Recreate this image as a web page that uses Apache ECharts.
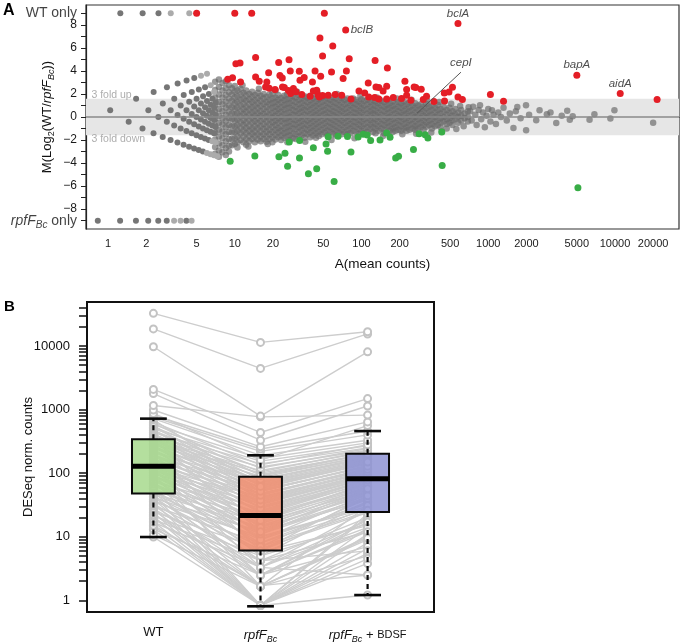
<!DOCTYPE html>
<html><head><meta charset="utf-8">
<script src="https://cdn.jsdelivr.net/npm/echarts@6/dist/echarts.min.js"></script>
<style>html,body{margin:0;padding:0;background:#fff}#c{width:683px;height:644px}</style>
</head><body><div id="c"></div><script>
// ---------- Panel A : MA plot ----------
const xMinA = 0.67, xMaxA = 32000;
const xTickValues = [1,2,5,10,20,50,100,200,500,1000,2000,5000,10000,20000];
const mTickValues = [-9,-8,-7,-6,-5,-4,-3,-2,-1,0,1,2,3,4,5,6,7,8,9];
const mLabelValues = [-8,-6,-4,-2,0,2,4,6,8];
const wtOnlyM = 9, rpfOnlyM = -9;
const onlyLabels = ['WT only','rpfF_Bc only'];
const foldUp = 1.585, foldDown = -1.585;

// low-count lattice (A, M)
const latticeDark = [
[1.04,0.585],[1.455,-0.415],[1.87,-1.0],[2.285,-1.415],[2.7,-1.737],[3.115,-2.0],[3.53,-2.222],[3.945,-2.415],[4.36,-2.585],[4.775,-2.737],[5.19,-2.874],[5.605,-3.0],
[1.665,1.585],[2.08,0.585],[2.495,0],[2.91,-0.415],[3.325,-0.737],[3.74,-1.0],[4.155,-1.222],[4.57,-1.415],[4.985,-1.585],[5.4,-1.737],[5.815,-1.874],[6.23,-2.0],
[2.29,2.17],[2.705,1.17],[3.12,0.585],[3.535,0.17],[3.95,-0.152],[4.365,-0.415],[4.78,-0.637],[5.195,-0.83],[5.61,-1.0],[6.025,-1.152],[6.44,-1.289],[6.855,-1.415],
[2.915,2.585],[3.33,1.585],[3.745,1.0],[4.16,0.585],[4.575,0.263],[4.99,0],[5.405,-0.222],[5.82,-0.415],[6.235,-0.585],[6.65,-0.737],[7.065,-0.874],
[3.54,2.907],[3.955,1.907],[4.37,1.322],[4.785,0.907],[5.2,0.585],[5.615,0.322],[6.03,0.1],[6.445,-0.093],[6.86,-0.263],
[4.165,3.17],[4.58,2.17],[4.995,1.585],[5.41,1.17],[5.825,0.848],[6.24,0.585],[6.655,0.363],[7.07,0.17],
[4.79,3.392],[5.205,2.392],[5.62,1.807],[6.035,1.392],[6.45,1.07],[6.865,0.807],
[5.83,2.585],[6.245,2.0],[6.66,1.585],[7.075,1.263]
];
const latticeLight = [
[6.02,-3.115],[6.435,-3.222],[6.85,-3.322],[7.265,-3.415],[6.645,-2.115],[7.06,-2.222],
[5.415,3.585],[6.04,3.755],[6.455,2.755],[6.87,2.17]
];
const wtOnlyDarkA = [1.25,1.875,2.5];
const wtOnlyLightA = [3.125,4.375];
const rpfOnlyDarkA = [0.83,1.245,1.66,2.075,2.49,2.905,4.15];
const rpfOnlyLightA = [3.32,3.735,4.565];

// dense cloud: each row = [A, M values...]
const cloudColumns = [
[7.0,3.05,2.35,1.7,1.05,0.45,-0.15,-0.75,-1.35,-1.95,-2.6,-3.2],
[7.5,3.25,2.6,1.95,1.3,0.7,0.1,-0.5,-1.1,-1.7,-2.3,-2.9,-3.45],
[8.0,2.95,2.3,1.7,1.1,0.5,-0.1,-0.65,-1.25,-1.85,-2.45,-3.05],
[8.5,3.1,2.5,1.9,1.35,0.8,0.2,-0.35,-0.9,-1.5,-2.1,-2.7,-3.3],
[9.0,2.75,2.15,1.6,1.0,0.45,-0.1,-0.7,-1.3,-1.9,-2.5,-3.0],
[9.5,2.5,1.95,1.4,0.85,0.3,-0.2,-0.8,-1.35,-1.9,-2.45],
[10.0,2.7,2.2,1.7,1.2,0.7,0.2,-0.3,-0.8,-1.3,-1.85,-2.35],
[10.5,2.3,1.8,1.3,0.8,0.3,-0.2,-0.7,-1.2,-1.7,-2.2,-2.65],
[11.1,2.45,1.95,1.5,1.0,0.5,0.05,-0.45,-0.95,-1.45,-2.0],
[11.7,2.1,1.6,1.15,0.7,0.25,-0.25,-0.7,-1.2,-1.7,-2.2],
[12.3,2.3,1.85,1.4,0.9,0.45,0.0,-0.5,-0.95,-1.4,-1.9,-2.4],
[13.0,2.0,1.55,1.1,0.65,0.2,-0.25,-0.75,-1.2,-1.65,-2.1],
[13.7,2.2,1.75,1.3,0.85,0.4,-0.05,-0.5,-1.0,-1.45,-1.9],
[14.4,1.9,1.45,1.0,0.55,0.1,-0.35,-0.8,-1.25,-1.7,-2.2],
[15.2,2.1,1.65,1.2,0.75,0.3,-0.1,-0.55,-1.0,-1.5,-1.95],
[16.0,1.85,1.4,0.95,0.5,0.1,-0.35,-0.8,-1.25,-1.7,-2.1],
[16.9,2.0,1.6,1.15,0.7,0.25,-0.15,-0.6,-1.05,-1.5,-1.9],
[17.8,1.75,1.3,0.9,0.45,0.05,-0.4,-0.85,-1.25,-1.7,-2.15],
[18.8,1.95,1.5,1.1,0.65,0.2,-0.2,-0.65,-1.1,-1.5,-1.9],
[19.8,2.05,1.6,1.2,0.8,0.35,-0.05,-0.45,-0.85,-1.3,-1.75,-2.2],
[20.9,1.7,1.3,0.9,0.5,0.1,-0.3,-0.7,-1.1,-1.55,-1.95],
[22.0,1.9,1.5,1.1,0.7,0.3,-0.1,-0.5,-0.95,-1.35,-1.75],
[23.2,1.65,1.25,0.85,0.45,0.05,-0.35,-0.8,-1.2,-1.6,-2.0],
[24.5,1.85,1.45,1.05,0.65,0.25,-0.15,-0.55,-1.0,-1.4,-1.8],
[25.8,1.95,1.55,1.15,0.75,0.3,-0.1,-0.5,-0.9,-1.3,-1.7],
[27.2,1.6,1.2,0.8,0.4,0.0,-0.4,-0.8,-1.2,-1.6,-2.0],
[28.7,1.8,1.4,1.0,0.6,0.2,-0.2,-0.6,-1.0,-1.45,-1.85],
[30.3,1.7,1.3,0.9,0.5,0.15,-0.25,-0.65,-1.05,-1.5,-1.9],
[32.0,1.9,1.5,1.1,0.7,0.3,-0.1,-0.5,-0.9,-1.3,-1.7],
[33.7,1.6,1.2,0.8,0.45,0.05,-0.35,-0.75,-1.15,-1.6],
[35.5,1.8,1.4,1.0,0.6,0.2,-0.2,-0.6,-1.0,-1.4,-1.8],
[37.4,1.7,1.3,0.9,0.5,0.1,-0.3,-0.7,-1.1,-1.5],
[39.4,1.85,1.45,1.05,0.65,0.25,-0.15,-0.55,-0.95,-1.35,-1.75],
[41.5,1.6,1.2,0.8,0.4,0.0,-0.4,-0.8,-1.2,-1.6],
[43.7,1.75,1.35,0.95,0.55,0.2,-0.2,-0.6,-1.0,-1.4,-1.8],
[46.0,1.55,1.15,0.75,0.35,-0.05,-0.45,-0.85,-1.25,-1.65],
[48.5,1.7,1.3,0.9,0.5,0.1,-0.3,-0.7,-1.1,-1.5],
[51.1,1.8,1.4,1.0,0.6,0.25,-0.15,-0.55,-0.95,-1.35],
[53.8,1.6,1.2,0.8,0.4,0.0,-0.4,-0.8,-1.2,-1.6],
[56.7,1.5,1.1,0.7,0.3,-0.1,-0.5,-0.9,-1.3],
[59.7,1.7,1.3,0.9,0.5,0.15,-0.25,-0.65,-1.05,-1.45],
[62.9,1.6,1.2,0.8,0.4,0.0,-0.4,-0.8,-1.2,-1.6],
[66.3,1.45,1.05,0.65,0.25,-0.15,-0.55,-0.95,-1.35],
[69.8,1.65,1.25,0.85,0.5,0.1,-0.3,-0.7,-1.1,-1.5],
[73.5,1.5,1.1,0.7,0.3,-0.1,-0.5,-0.9,-1.3],
[77.4,1.6,1.2,0.8,0.4,0.05,-0.35,-0.75,-1.15,-1.5],
[81.5,1.4,1.0,0.6,0.2,-0.2,-0.6,-1.0,-1.4],
[85.8,1.6,1.2,0.8,0.4,0.0,-0.4,-0.8,-1.2],
[90.3,1.5,1.1,0.7,0.35,-0.05,-0.45,-0.85,-1.3],
[95.1,1.35,0.95,0.55,0.15,-0.25,-0.65,-1.05,-1.45],
[100,1.55,1.15,0.75,0.4,0.0,-0.4,-0.8,-1.2],
[105,1.4,1.0,0.6,0.2,-0.2,-0.6,-1.0,-1.4],
[111,1.5,1.1,0.7,0.3,-0.1,-0.5,-0.9,-1.3],
[117,1.3,0.9,0.5,0.15,-0.25,-0.65,-1.05],
[123,1.45,1.05,0.65,0.3,-0.1,-0.5,-0.9,-1.3],
[129,1.35,0.95,0.55,0.2,-0.2,-0.6,-1.0,-1.4],
[136,1.2,0.8,0.4,0.0,-0.4,-0.8,-1.2],
[143,1.4,1.0,0.6,0.2,-0.2,-0.6,-1.0],
[151,1.3,0.9,0.5,0.1,-0.3,-0.7,-1.1,-1.4],
[159,1.45,1.05,0.7,0.3,-0.1,-0.5,-0.9],
[167,1.2,0.8,0.4,0.0,-0.4,-0.8,-1.2],
[176,1.35,0.95,0.6,0.2,-0.2,-0.6,-1.0,-1.3],
[185,1.1,0.7,0.3,-0.1,-0.5,-0.9,-1.2],
[195,1.3,0.9,0.5,0.1,-0.3,-0.7,-1.1],
[205,1.2,0.8,0.4,0.0,-0.4,-0.8,-1.2],
[216,1.35,0.95,0.55,0.2,-0.2,-0.6,-1.0],
[227,1.1,0.7,0.3,-0.1,-0.5,-0.9,-1.2],
[239,1.25,0.85,0.5,0.1,-0.3,-0.7,-1.1],
[252,1.0,0.6,0.2,-0.2,-0.6,-1.0],
[265,1.2,0.8,0.4,0.0,-0.4,-0.8,-1.1],
[279,1.0,0.6,0.2,-0.2,-0.6,-1.0],
[294,1.1,0.7,0.3,-0.1,-0.5,-0.9],
[309,0.9,0.5,0.1,-0.3,-0.7,-1.1],
[325,1.15,0.75,0.35,-0.05,-0.45,-0.85],
[342,0.9,0.5,0.1,-0.3,-0.7],
[360,1.0,0.6,0.2,-0.2,-0.6,-1.0],
[380,0.8,0.4,0.0,-0.4,-0.8],
[400,1.05,0.6,0.2,-0.25,-0.7],
[421,0.7,0.3,-0.1,-0.5,-0.9],
[445,0.9,0.45,0.0,-0.4],
[470,0.6,0.2,-0.2,-0.6,-1.0],
[495,0.8,0.35,-0.1,-0.5],
[522,0.5,0.1,-0.3,-0.7],
[550,0.7,0.2,-0.2],
[580,0.4,0.0,-0.5],
[612,0.6,0.1,-0.3],
[650,0.3,-0.1],
[690,0.5,0.0,-0.4]
];
const cloudLoose = [[11.5,2.75],[12.8,-2.55],[15.5,2.45],[18.2,-2.35],[21,2.3],[26,-2.2],[31,2.2],[36,-2.15],[45,2.1],[58,-2.0],[64,2.0],[88,-1.85],[98,1.85],[132,1.7],[148,-1.65],[190,1.6],[210,-1.5],[248,1.5],[270,-1.45],[330,1.4],[355,-1.35],[410,1.3],[430,-1.25],[510,1.15],[560,-1.05],[600,0.95],[640,-0.8],[700,0.85]];
const sparseGrey = [[720,0.5],[740,-0.3],[760,0.9],[790,0.2],[810,-0.7],[840,0.6],[861,1.02],[880,-0.2],[910,0.4],[940,-0.9],[970,0.1],[1000,0.7],[1040,-0.4],[1070,0.58],[1100,0.2],[1150,-0.6],[1200,0.4],[1260,0.0],[1320,0.8],[1400,-0.3],[1480,0.3],[1580,-0.96],[1650,0.5],[1695,0.87],[1800,-0.1],[1986,1.02],[1990,-1.16],[2100,0.2],[2390,-0.29],[2540,0.58],[2900,0.23],[3100,0.4],[3440,-0.52],[3800,0.1],[4200,0.55],[4400,-0.23],[4640,0.06],[6300,-0.23],[6880,0.23],[9200,-0.14],[9900,0.58],[20000,-0.5]];

const redWtOnlyA = [5.0,10,13.6,50.9];
const redPoints = [[8.8,3.28],[9.6,3.4],[10.2,4.62],[11.0,4.68],[11.1,3.04],[14.6,5.16],[14.6,3.48],[15.6,3.1],[17.5,2.61],[17.9,3.04],[18.5,3.83],[18.7,2.5],[20.8,2.38],[22.2,4.73],[22.7,3.6],[23.7,3.39],[23.8,2.6],[24.6,2.55],[26.5,2.29],[26.8,4.97],[27.4,4.0],[27.6,2.03],[29.0,2.47],[30.4,2.2],[32.3,3.97],[32.7,3.19],[33.8,1.95],[35.3,3.42],[39.3,1.8],[41.0,3.04],[41.7,2.26],[43,4.0],[44.3,2.32],[45.6,1.89],[46.5,1.74],[47,6.85],[47.6,3.54],[49.3,5.3],[49.3,1.86],[54.6,1.89],[58,3.9],[59.3,6.17],[62,1.95],[69.8,1.89],[71.6,3.34],[75,7.54],[76,4.0],[80,5.05],[82.6,1.57],[95.5,2.26],[106,2.09],[113,2.96],[114,1.74],[127,1.69],[128,4.9],[130,2.61],[137,2.56],[137,1.57],[148,2.26],[158,2.67],[158,1.57],[160,4.26],[178,1.69],[207,1.6],[220,3.1],[227,2.38],[227,1.89],[245,1.45],[260,2.61],[268,2.56],[296,2.4],[307,1.51],[326,1.8],[373,1.34],[450,2.09],[452,1.39],[490,2.17],[522,2.58],[577,8.12],[577,1.74],[625,1.52],[1040,1.95],[1320,1.37],[5000,3.63],[11000,2.03],[21500,1.51]];
const greenPoints = [[9.2,-3.83],[14.4,-3.39],[22.3,-3.45],[24.9,-3.15],[26.1,-4.28],[26.9,-2.17],[32.4,-3.55],[32.5,-2.03],[38.1,-4.92],[41.7,-2.66],[44.3,-4.5],[52.5,-2.35],[54,-2.97],[54.6,-1.72],[60.8,-5.59],[65.3,-1.68],[77.5,-1.7],[82.6,-3.04],[94,-1.74],[103,-1.5],[111,-1.56],[118,-2.03],[140,-2.0],[158,-1.39],[168,-1.75],[186,-3.55],[196,-3.4],[257,-2.81],[285,-1.45],[318,-1.53],[334,-1.82],[430,-1.3],[433,-4.2],[5100,-6.14]];

const geneLabelNames = ['bclB','bclA','bapA','aidA'];
const geneLabelA = [75,577,5000,11000];
const geneLabelM = [7.54,8.12,3.63,2.03];
const cepIName = 'cepI';
const cepIGene = [274,0.32];
const cepILabelEnd = [609,3.89];
const foldTexts = ['3 fold up','3 fold down'];
const foldTextA = [0.7,0.7];
const foldTextM = [1.89,-1.94];

// ---------- Panel B : box plots ----------
const groupX = [1,2,3];
const groupNames = ['WT','rpfF_Bc','rpfF_Bc + BDSF'];
const boxLow = [9.9,0.805,1.21];
const boxQ1 = [47.8,6.05,24.5];
const boxMedian = [128,21.5,82];
const boxQ3 = [341,88,203];
const boxHigh = [721,191,460];
const countTickValues = [1,2,3,4,5,6,7,8,9,10,20,30,40,50,60,70,80,90,100,200,300,400,500,600,700,800,900,1000,2000,3000,4000,5000,6000,7000,8000,9000,10000,20000,30000,40000];
const countLabelValues = [1,10,100,1000,10000];
const geneWT = [
9.9,10.8,12.9,13.2,14.8,15.1,16.9,17.3,18.8,19.2,
20.9,21.4,22.1,24.0,24.6,26.3,27.4,28.1,30.5,31.2,
32.6,35.1,35.8,37.9,38.6,40.9,42.5,43.1,45.6,46.8,
48.3,49.6,52.7,53.5,56.8,57.4,61.0,62.3,66.9,68.4,
72.8,74.1,78.9,80.2,85.1,86.3,91.2,92.4,97.0,98.5,
103,104,109,110,115,116,121,122,127,129,
132,135,142,145,152,156,164,168,176,181,
190,195,205,210,222,227,240,245,258,263,
276,281,294,299,312,316,327,330,340,343,
352,358,375,382,400,409,430,436,459,466,
490,498,525,535,565,580,615,635,690,721,
765,815,870,985,1160,1790,2080,9750,18600,32700];
const geneRpf = [
0.83,1.66,0.83,2.5,0.83,1.7,3.3,0.83,4.2,1.66,
0.83,5.0,2.5,0.83,6.5,1.66,3.3,0.83,8,2.5,
4.2,0.83,10,5.8,1.66,12,3.3,7,0.83,9,
14,2.5,6,17,4.2,11,0.83,20,8,13,
2.5,24,10,16,5,28,12,19,1.66,33,
15,22,7,38,18,26,3.3,42,21,30,
9,48,25,35,11,55,29,40,14,62,
32,46,6,70,36,52,18,80,42,58,
23,90,47,66,28,100,52,75,12,110,
58,85,33,125,64,95,38,140,72,105,
45,155,80,120,52,170,92,135,62,191,
220,240,160,260,770,330,437,790,4450,11400];
const geneBDSF = [
5.5,9,3.8,12,6.5,2.5,14,8,20,5,
11,16,7,1.21,24,10,18,4.5,27,13,
6,21,30,15,9.5,38,2.5,25,14,33,
45,19,29,52,12,40,23,60,35,48,
17,70,28,55,36,75,42,66,31,88,
50,72,40,95,58,80,26,100,64,85,
47,110,76,92,53,125,82,104,62,140,
90,118,44,155,98,130,70,170,108,145,
78,185,120,160,86,200,132,175,57,215,
140,190,95,230,150,205,105,250,165,225,
115,270,180,245,128,300,200,280,150,330,
400,460,560,640,820,1140,1490,8100,15500,16800];

// ---------- styles ----------
const FONT = 'Liberation Sans, Arial, sans-serif';
const boxColors = ['#a7d98d','#f18e70','#8e93d4'];
const redColor = '#e41e26', greenColor = '#38ad46';

function richName(name){
  if (name.indexOf('rpfF_Bc') < 0) return '{n|' + name + '}';
  let s = name.replace('rpfF_Bc','{i|rpfF}{s|Bc}');
  s = s.replace(' + BDSF','{n| + }{sm|BDSF}');
  s = s.replace(' only','{n| only}');
  return s;
}

const cloudPoints = cloudColumns.flatMap(c => c.slice(1).map(m => [c[0], m]));

function renderBox(params, api){
  const x = api.value(0);
  const lo = api.value(1), q1 = api.value(2), med = api.value(3), q3 = api.value(4), hi = api.value(5);
  const pQ1 = api.coord([x, q1]), pQ3 = api.coord([x, q3]), pMed = api.coord([x, med]);
  const pLo = api.coord([x, lo]), pHi = api.coord([x, hi]);
  const xl = api.coord([x - 0.2, med])[0], xr = api.coord([x + 0.2, med])[0];
  const cl = api.coord([x - 0.125, med])[0], cr = api.coord([x + 0.125, med])[0];
  const cx = pMed[0];
  const black = '#0a0a0a';
  return {type:'group', children:[
    {type:'line', shape:{x1:cx,y1:pQ3[1],x2:cx,y2:pHi[1]}, style:{stroke:black,lineWidth:2.2,lineDash:[5,4]}},
    {type:'line', shape:{x1:cx,y1:pQ1[1],x2:cx,y2:pLo[1]}, style:{stroke:black,lineWidth:2.2,lineDash:[5,4]}},
    {type:'line', shape:{x1:cl,y1:pHi[1],x2:cr,y2:pHi[1]}, style:{stroke:black,lineWidth:2.6}},
    {type:'line', shape:{x1:cl,y1:pLo[1],x2:cr,y2:pLo[1]}, style:{stroke:black,lineWidth:2.6}},
    {type:'rect', shape:{x:xl,y:pQ3[1],width:xr-xl,height:pQ1[1]-pQ3[1]}, style:{fill:boxColors[params.dataIndex],opacity:0.85}},
    {type:'rect', shape:{x:xl,y:pQ3[1],width:xr-xl,height:pQ1[1]-pQ3[1]}, style:{fill:'none',stroke:black,lineWidth:2}},
    {type:'line', shape:{x1:xl,y1:pMed[1],x2:xr,y2:pMed[1]}, style:{stroke:'#000',lineWidth:5}}
  ]};
}

const geneSeries = geneWT.map((w, i) => ({
  type:'line', xAxisIndex:1, yAxisIndex:1, silent:true, z:2,
  data:[[groupX[0], w],[groupX[1], geneRpf[i]],[groupX[2], geneBDSF[i]]],
  symbol:'emptyCircle', symbolSize:7,
  lineStyle:{color:'#cdcdcd', width:1.4},
  itemStyle:{color:'#c3c3c3', borderWidth:1.4, opacity:1}
}));

const richOnly = {n:{fontSize:14,color:'#111',fontFamily:FONT},
  i:{fontSize:14,fontStyle:'italic',color:'#111',fontFamily:FONT,lineHeight:19},
  s:{fontSize:10,fontStyle:'italic',color:'#111',fontFamily:FONT,verticalAlign:'bottom'}};

const option = {
  animation:false,
  textStyle:{fontFamily:FONT},
  title:[
    {text:'A', left:3, top:3, padding:0, textStyle:{fontSize:16,fontWeight:'bold',color:'#000',fontFamily:FONT}},
    {text:'B', left:4, top:299, padding:0, textStyle:{fontSize:15,fontWeight:'bold',color:'#000',fontFamily:FONT}}
  ],
  grid:[
    {left:86, right:4, top:5, bottom:415, show:true, borderColor:'#333', borderWidth:1.2, outerBoundsMode:'none'},
    {left:87, right:249, top:302, bottom:32, show:true, borderColor:'#111', borderWidth:2, outerBoundsMode:'none'}
  ],
  xAxis:[
    {type:'log', gridIndex:0, min:xMinA, max:xMaxA, logBase:10,
     name:'A(mean counts)', nameLocation:'middle', nameGap:28, nameMoveOverlap:false,
     nameTextStyle:{fontSize:13.5,color:'#111',fontFamily:FONT},
     axisLine:{show:true,lineStyle:{color:'#222',width:1.2}},
     axisTick:{show:true,customValues:xTickValues,length:5,lineStyle:{color:'#222'}},
     axisLabel:{customValues:xTickValues,fontSize:11,color:'#1a1a1a',margin:9,hideOverlap:false,formatter:v=>String(Math.round(v))},
     splitLine:{show:false}, minorTick:{show:false}},
    {type:'value', gridIndex:1, min:0.38, max:3.62,
     axisLine:{show:true,lineStyle:{color:'#111',width:2}},
     axisTick:{show:false},
     axisLabel:{customValues:groupX,margin:14,color:'#111',fontSize:13,hideOverlap:false,
       formatter:v=>richName(groupNames[Math.round(v)-1]),
       rich:{n:{fontSize:13,color:'#111',fontFamily:FONT},
             i:{fontSize:13,fontStyle:'italic',color:'#111',fontFamily:FONT,lineHeight:18},
             s:{fontSize:9,fontStyle:'italic',color:'#111',fontFamily:FONT,verticalAlign:'bottom'},
             sm:{fontSize:11,color:'#111',fontFamily:FONT}}},
     splitLine:{show:false}}
  ],
  yAxis:[
    {type:'value', gridIndex:0, min:-9.72, max:9.72,
     name:'M(Log{sub|2}(WT/{it|rpfF}{itsub|Bc}))', nameLocation:'middle', nameGap:30, nameMoveOverlap:false,
     nameTextStyle:{fontSize:13,color:'#111',fontFamily:FONT,
       rich:{sub:{fontSize:9,color:'#111',fontFamily:FONT,verticalAlign:'bottom'},
             it:{fontSize:13,fontStyle:'italic',color:'#111',fontFamily:FONT,lineHeight:18},
             itsub:{fontSize:9,fontStyle:'italic',color:'#111',fontFamily:FONT,verticalAlign:'bottom'}}},
     axisLine:{show:true,lineStyle:{color:'#222',width:1.2}},
     axisTick:{show:true,customValues:mTickValues,length:5,lineStyle:{color:'#222'}},
     axisLabel:{customValues:mLabelValues,margin:9,fontSize:12,color:'#1a1a1a',hideOverlap:false,
       formatter:v=> v < 0 ? '\u2212' + Math.abs(v) : String(v)},
     splitLine:{show:false}},
    {type:'log', gridIndex:1, min:0.655, max:49300, logBase:10,
     name:'DESeq norm. counts', nameLocation:'middle', nameGap:52, nameMoveOverlap:false,
     nameTextStyle:{fontSize:13,color:'#111',fontFamily:FONT},
     axisLine:{show:true,lineStyle:{color:'#111',width:2}},
     axisTick:{show:true,customValues:countTickValues,length:8,lineStyle:{color:'#111',width:1.5}},
     axisLabel:{customValues:countLabelValues,margin:17,fontSize:13,color:'#111',hideOverlap:false,formatter:v=>String(Math.round(v))},
     splitLine:{show:false}, minorTick:{show:false}}
  ],
  series:[
    {type:'scatter', xAxisIndex:0, yAxisIndex:0, data:[], silent:true, z:1,
     markArea:{silent:true, itemStyle:{color:'#e6e6e6'}, data:[[{yAxis:foldDown},{yAxis:foldUp}]]}},
    {type:'scatter', xAxisIndex:0, yAxisIndex:0, data:[], silent:true, z:2,
     markLine:{silent:true, symbol:'none', label:{show:false}, lineStyle:{color:'#8a8a8a',width:1.5,type:'solid'}, data:[{yAxis:0}]}},
    {type:'scatter', xAxisIndex:0, yAxisIndex:0, silent:true, z:3, symbolSize:6.5,
     itemStyle:{color:'#6a6a6a', opacity:0.68}, data:cloudPoints.concat(cloudLoose, sparseGrey)},
    {type:'scatter', xAxisIndex:0, yAxisIndex:0, silent:true, z:3, symbolSize:6,
     itemStyle:{color:'#767676', opacity:1}, data:latticeDark.concat(wtOnlyDarkA.map(a=>[a,wtOnlyM]), rpfOnlyDarkA.map(a=>[a,rpfOnlyM]))},
    {type:'scatter', xAxisIndex:0, yAxisIndex:0, silent:true, z:3, symbolSize:6,
     itemStyle:{color:'#ababab', opacity:1}, data:latticeLight.concat(wtOnlyLightA.map(a=>[a,wtOnlyM]), rpfOnlyLightA.map(a=>[a,rpfOnlyM]))},
    {type:'scatter', xAxisIndex:0, yAxisIndex:0, silent:true, z:5, symbolSize:7,
     itemStyle:{color:redColor, opacity:1}, data:redPoints.concat(redWtOnlyA.map(a=>[a,wtOnlyM]))},
    {type:'scatter', xAxisIndex:0, yAxisIndex:0, silent:true, z:5, symbolSize:7,
     itemStyle:{color:greenColor, opacity:1}, data:greenPoints},
    {type:'lines', coordinateSystem:'cartesian2d', xAxisIndex:0, yAxisIndex:0, silent:true, z:6,
     lineStyle:{color:'#555',width:1,opacity:1}, data:[{coords:[cepIGene, cepILabelEnd]}]},
    {type:'scatter', xAxisIndex:0, yAxisIndex:0, silent:true, z:7, symbolSize:0,
     data:geneLabelNames.map((n,i)=>({value:[geneLabelA[i],geneLabelM[i]], name:n,
       label:{position: i===0 ? 'right' : 'top', distance: i===0 ? 5 : 4}})).concat([{value:cepILabelEnd, name:cepIName, label:{position:'top',distance:3}}]),
     label:{show:true, formatter:p=>p.name, fontSize:11.5, fontStyle:'italic', color:'#222', fontFamily:FONT}},
    {type:'scatter', xAxisIndex:0, yAxisIndex:0, silent:true, z:7, symbolSize:0,
     data:foldTexts.map((t,i)=>({value:[foldTextA[i],foldTextM[i]], name:t})),
     label:{show:true, position:'right', distance:3, formatter:p=>p.name, fontSize:10.5, color:'#999', fontFamily:FONT}},
    // "WT only" / "rpfF only" row labels placed at the left edge of panel A
    {type:'scatter', xAxisIndex:0, yAxisIndex:0, silent:true, z:7, symbolSize:0, clip:false,
     data:onlyLabels.map((t,i)=>({value:[xMinA, i===0 ? wtOnlyM : rpfOnlyM], name:t})),
     label:{show:true, position:'left', distance:9, formatter:p=>richName(p.name), rich:richOnly}},
    ...geneSeries,
    {type:'custom', xAxisIndex:1, yAxisIndex:1, silent:true, z:10, renderItem:renderBox,
     encode:{x:0, y:[1,2,3,4,5]},
     data:groupX.map((x,i)=>[x, boxLow[i], boxQ1[i], boxMedian[i], boxQ3[i], boxHigh[i]])}
  ]
};
const chart = echarts.init(document.getElementById('c'), null, {renderer:'canvas'});
chart.setOption(option);
</script></body></html>
